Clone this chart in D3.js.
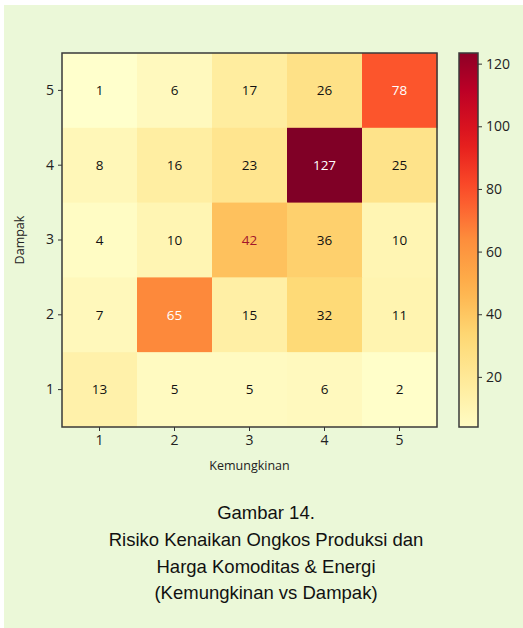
<!DOCTYPE html>
<html>
<head>
<meta charset="utf-8">
<script src="https://cdn.jsdelivr.net/npm/d3@7"></script>
<style>
  body { margin: 0; background: #ffffff; }
  svg text { font-family: "Open Sans", "Noto Sans", sans-serif; fill: #222; }
  .caption { font-family: "Liberation Sans", Arial, sans-serif; font-size: 18.5px; fill: #111; }
</style>
</head>
<body>
<svg id="chart"></svg>
<script>
// data
const kemungkinan = [1, 2, 3, 4, 5]   // x categories
const dampak = [5, 4, 3, 2, 1]        // y categories, top to bottom
const values = [                      // one row per dampak (5 -> 1)
    [1, 6, 17, 26, 78],
    [8, 16, 23, 127, 25],
    [4, 10, 42, 36, 10],
    [7, 65, 15, 32, 11],
    [13, 5, 5, 6, 2],
]
const colorbarTicks = [20, 40, 60, 80, 100, 120]
const captionLines = [
    'Gambar 14.',
    'Risiko Kenaikan Ongkos Produksi dan',
    'Harga Komoditas & Energi',
    '(Kemungkinan vs Dampak)',
]

const W = 523, H = 628
const plot = { left: 62, top: 53, width: 375, height: 374 }
const cbar = { left: 459, width: 19 }

const ylorrd = ['#ffffcc', '#ffeda0', '#fed976', '#feb24c', '#fd8d3c',
                '#fc4e2a', '#e31a1c', '#bd0026', '#800026']
const color = d3.scaleLinear()
                .domain(d3.range(9).map(i => 1 + i * (127 - 1) / 8))
                .range(ylorrd)
                .clamp(true)

const svg = d3.select('#chart').attr('width', W).attr('height', H)

// page background
svg.append('rect')
   .attr('x', 4).attr('y', 5)
   .attr('width', W - 4).attr('height', H - 5)
   .attr('fill', '#ebf8d8')

const x = d3.scaleBand().domain(kemungkinan).range([0, plot.width])
const y = d3.scaleBand().domain(dampak).range([0, plot.height])

const g = svg.append('g')
             .attr('transform', `translate(${plot.left},${plot.top})`)

const cells = []
dampak.forEach((dv, i) => {
    kemungkinan.forEach((kv, j) => {
        cells.push({ k: kv, d: dv, v: values[i][j] })
    })
})

g.selectAll('.cell')
 .data(cells)
 .enter().append('rect')
 .attr('class', 'cell')
 .attr('x', d => x(d.k))
 .attr('y', d => y(d.d))
 .attr('width', x.bandwidth() + 0.5)
 .attr('height', y.bandwidth() + 0.5)
 .attr('fill', d => color(d.v))

g.selectAll('.val')
 .data(cells)
 .enter().append('text')
 .attr('class', 'val')
 .attr('x', d => x(d.k) + x.bandwidth() / 2)
 .attr('y', d => y(d.d) + y.bandwidth() / 2)
 .attr('dy', '.35em')
 .attr('text-anchor', 'middle')
 .style('font-size', '13.5px')
 .style('fill', d => d.v > 60 ? '#ffffff' : (d.v === 42 ? '#a3162b' : '#111'))
 .text(d => d.v)

// axes
const xAxis = g.append('g')
               .attr('transform', `translate(0,${plot.height})`)
               .call(d3.axisBottom(x).tickSize(4).tickPadding(4))
const yAxis = g.append('g')
               .call(d3.axisLeft(y).tickSize(4).tickPadding(4))
;[xAxis, yAxis].forEach(a => {
    a.select('.domain').remove()
    a.selectAll('.tick line').attr('stroke', '#333')
    a.selectAll('.tick text').style('font-size', '14px').style('fill', '#222')
})

g.append('rect')
 .attr('width', plot.width).attr('height', plot.height)
 .attr('fill', 'none').attr('stroke', '#3a3a3a').attr('stroke-width', 1.5)

g.append('text')
 .attr('x', plot.width / 2).attr('y', plot.height + 39)
 .attr('dy', '.35em')
 .attr('text-anchor', 'middle')
 .style('font-size', '12.5px')
 .text('Kemungkinan')

g.append('text')
 .attr('transform', `translate(-42,${plot.height / 2}) rotate(-90)`)
 .attr('dy', '.35em')
 .attr('text-anchor', 'middle')
 .style('font-size', '12.5px')
 .text('Dampak')

// colorbar
const cbScale = d3.scaleLinear()
                  .domain([4, 123.4])
                  .range([plot.top + plot.height, plot.top])

const defs = svg.append('defs')
const grad = defs.append('linearGradient')
                 .attr('id', 'cbgrad')
                 .attr('x1', 0).attr('y1', 1).attr('x2', 0).attr('y2', 0)
d3.range(0, 1.0001, 0.05).forEach(t => {
    const v = 4 + t * (123.4 - 4)
    grad.append('stop')
        .attr('offset', t)
        .attr('stop-color', color(v))
})

svg.append('rect')
   .attr('x', cbar.left).attr('y', plot.top)
   .attr('width', cbar.width).attr('height', plot.height)
   .attr('fill', 'url(#cbgrad)')
   .attr('stroke', '#3a3a3a').attr('stroke-width', 1.5)

const cbAxis = svg.append('g')
                  .attr('transform', `translate(${cbar.left + cbar.width},0)`)
                  .call(d3.axisRight(cbScale).tickValues(colorbarTicks)
                          .tickSize(4).tickPadding(4))
cbAxis.select('.domain').remove()
cbAxis.selectAll('.tick line').attr('stroke', '#333')
cbAxis.selectAll('.tick text').style('font-size', '14px').style('fill', '#222')

// caption
svg.selectAll('.caption')
   .data(captionLines)
   .enter().append('text')
   .attr('class', 'caption')
   .attr('x', 266)
   .attr('y', (d, i) => 513 + i * 26.6)
   .attr('dy', '.35em')
   .attr('text-anchor', 'middle')
   .text(d => d)
</script>
</body>
</html>
